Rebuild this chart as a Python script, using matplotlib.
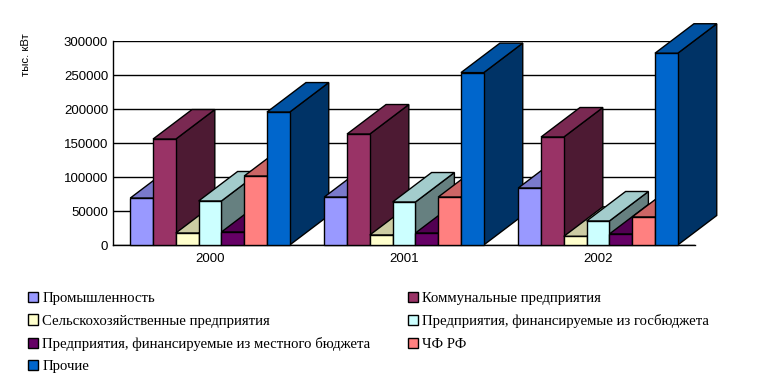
import matplotlib
matplotlib.use('Agg')
import matplotlib.pyplot as plt
from matplotlib.patches import Polygon, Patch
from matplotlib.colors import to_rgb

years = ['2000', '2001', '2002']
names = ['Промышленность', 'Коммунальные предприятия',
         'Сельскохозяйственные предприятия',
         'Предприятия, финансируемые из госбюджета',
         'Предприятия, финансируемые из местного бюджета',
         'ЧФ РФ', 'Прочие']
colors = ['#9999FF', '#993366', '#FFFFCC', '#CCFFFF', '#660066', '#FF8080', '#0066CC']

industry = [69000, 70500, 83800]
communal = [155800, 163200, 158800]
agri = [17600, 14700, 12700]
federal = [64700, 63200, 35300]
local = [19100, 17600, 16200]
chf = [101400, 70500, 41200]
other = [195500, 253500, 282000]
series = [industry, communal, agri, federal, local, chf, other]

W, H = 775, 384
fig = plt.figure(figsize=(W / 100, H / 100), dpi=100)
ax = fig.add_axes([113 / W, 1 - 245 / H, 582 / W, 204 / H])
ax.set_xlim(-0.5, 2.5)
ax.set_ylim(0, 300000)

bar_w = 159.5 / 194 / 7
dx = 39 / 194       # depth of the 3d look, in data units
dy = 29.5 / 204 * 300000


def shade(c, f):
    return tuple(v * f for v in to_rgb(c))


z = 3
for g in range(len(years)):
    for s, vals in enumerate(series):
        v = vals[g]
        x0 = g - 3.5 * bar_w + s * bar_w
        x1 = x0 + bar_w
        c = colors[s]
        top = [(x0, v), (x1, v), (x1 + dx, v + dy), (x0 + dx, v + dy)]
        side = [(x1, 0), (x1, v), (x1 + dx, v + dy), (x1 + dx, dy)]
        ax.add_patch(Polygon(side, fc=shade(c, 0.5), ec='k', lw=1, zorder=z, clip_on=False))
        ax.add_patch(Polygon(top, fc=shade(c, 0.8), ec='k', lw=1, zorder=z, clip_on=False))
        ax.bar(x0, v, bar_w, align='edge', color=c, edgecolor='k', lw=1, zorder=z + 1, clip_on=False)
        z += 2

ax.set_xticks(range(len(years)))
ax.set_xticklabels(years, fontname='Liberation Sans', fontsize=9.5)
ax.set_yticks(range(0, 300001, 50000))
ax.set_yticklabels([str(t) for t in range(0, 300001, 50000)], fontname='Liberation Sans', fontsize=9.5)
ax.tick_params(length=0, pad=3.5)
ax.tick_params(axis='x', pad=6)
ax.grid(axis='y', color='k', lw=1)
ax.set_axisbelow(True)
for sp in ['top', 'right']:
    ax.spines[sp].set_visible(False)
for sp in ['left', 'bottom']:
    ax.spines[sp].set_linewidth(1)

fig.text(26 / W, 1 - 55 / H, 'тыс. кВт', rotation=90, ha='center', va='center',
         fontname='Liberation Sans', fontsize=8.2)

# legend fills columns, so order it to read across the rows
order = [0, 2, 4, 6, 1, 3, 5]
handles = [Patch(fc=colors[i], ec='k', lw=1) for i in order]
fig.legend(handles, [names[i] for i in order], ncol=2, frameon=False,
           loc='upper left', bbox_to_anchor=(28 / W, 1 - 292 / H), borderaxespad=0, borderpad=0,
           prop={'family': 'Liberation Serif', 'size': 10.6},
           handlelength=0.7, handleheight=0.7, handletextpad=0.27,
           labelspacing=0.62, columnspacing=2.55)

fig.savefig('out.png', dpi=100)
